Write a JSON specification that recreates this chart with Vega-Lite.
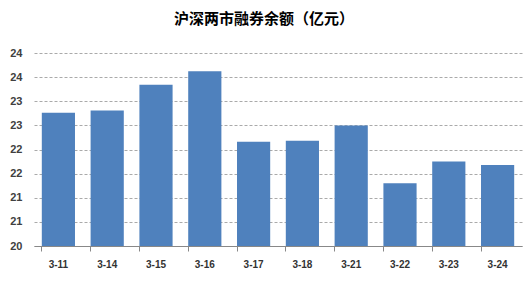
{
  "$schema": "https://vega.github.io/schema/vega-lite/v6.json",
  "width": 488,
  "height": 193,
  "autosize": {"type": "none"},
  "padding": {"left": 34, "top": 53, "right": 7, "bottom": 36},
  "background": "white",
  "title": {
    "text": "沪深两市融券余额（亿元）",
    "font": "Noto Sans CJK SC",
    "fontSize": 15,
    "fontWeight": "bold",
    "color": "#000000",
    "anchor": "middle",
    "dx": -14,
    "offset": 20
  },
  "data": {
    "values": [
      {"date": "3-11", "value": 22.76},
      {"date": "3-14", "value": 22.81},
      {"date": "3-15", "value": 23.34},
      {"date": "3-16", "value": 23.62},
      {"date": "3-17", "value": 22.16},
      {"date": "3-18", "value": 22.18},
      {"date": "3-21", "value": 22.5},
      {"date": "3-22", "value": 21.3},
      {"date": "3-23", "value": 21.75},
      {"date": "3-24", "value": 21.68}
    ]
  },
  "mark": {"type": "bar", "color": "#4F81BD", "clip": true},
  "encoding": {
    "x": {
      "field": "date",
      "type": "ordinal",
      "sort": null,
      "scale": {"paddingInner": 0.32, "paddingOuter": 0.16},
      "axis": {
        "title": null,
        "labelAngle": 0,
        "bandPosition": 0,
        "ticks": true,
        "tickSize": 5,
        "tickColor": "#888888",
        "domainColor": "#888888",
        "labelFont": "Liberation Sans",
        "labelFontSize": 10,
        "labelFontWeight": "bold",
        "labelColor": "#333333",
        "labelPadding": 8,
        "grid": false
      }
    },
    "y": {
      "field": "value",
      "type": "quantitative",
      "scale": {"domain": [20, 24], "nice": false, "zero": false},
      "axis": {
        "title": null,
        "values": [20, 20.5, 21, 21.5, 22, 22.5, 23, 23.5, 24],
        "format": ".0f",
        "domain": false,
        "ticks": false,
        "labelPadding": 12,
        "gridDash": [3, 2],
        "gridColor": "#aaaaaa",
        "labelFont": "Liberation Sans",
        "labelFontSize": 11,
        "labelFontWeight": "bold",
        "labelColor": "#404040"
      }
    }
  },
  "config": {"view": {"stroke": null}}
}
